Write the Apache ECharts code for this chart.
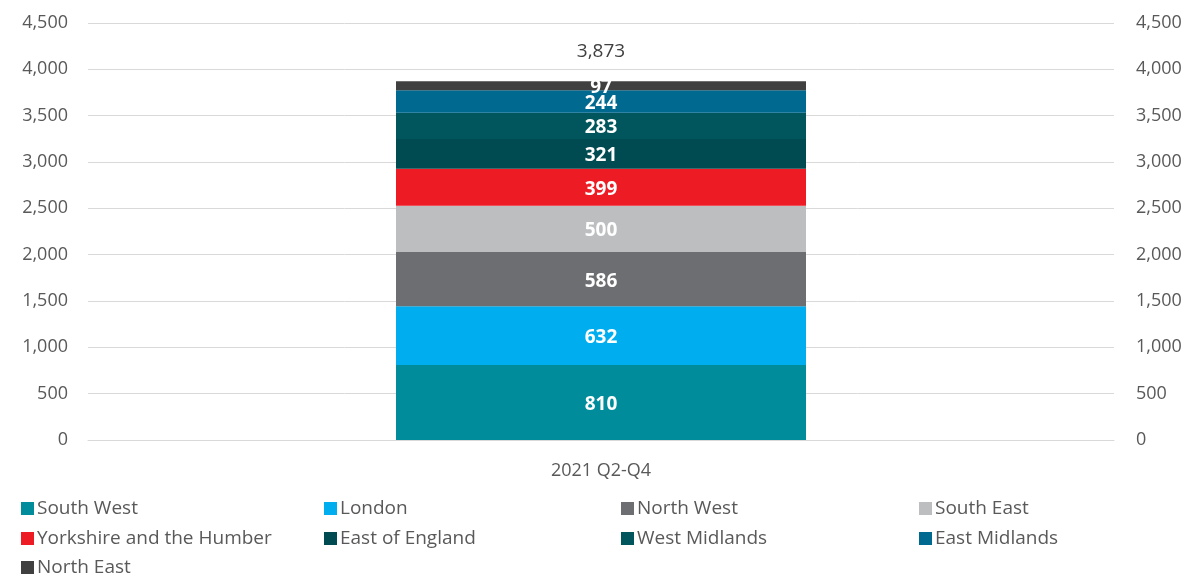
<!DOCTYPE html>
<html>
<head>
  <meta charset="utf-8">
  <title>Regions 2021 Q2-Q4</title>
  <script src="https://cdn.jsdelivr.net/npm/echarts@6/dist/echarts.min.js"></script>
  <style>
    html, body { margin: 0; padding: 0; background: #fff; }
    #chart { width: 1201px; height: 578px; }
  </style>
</head>
<body>
<div id="chart"></div>
<script>
  // data
  var categories = ['2021 Q2-Q4'];
  var regions = ['South West', 'London', 'North West', 'South East', 'Yorkshire and the Humber',
                 'East of England', 'West Midlands', 'East Midlands', 'North East'];
  var values = [810, 632, 586, 500, 399, 321, 283, 244, 97];
  var totals = [3873]; // as printed (rounded source figures)
  var colors = ['#008C9A', '#00AEEF', '#6D6E71', '#BCBEC0', '#ED1C24',
                '#004A52', '#00565C', '#006990', '#404041'];
  var ticks = [0, 500, 1000, 1500, 2000, 2500, 3000, 3500, 4000, 4500];

  var font = '"Open Sans", sans-serif';
  var fmt = function (v) { return v.toLocaleString('en-US'); };

  var series = regions.map(function (name, i) {
    return {
      name: name,
      type: 'bar',
      stack: 'all',
      barWidth: 410,
      itemStyle: { color: colors[i] },
      label: {
        show: true,
        position: 'inside',
        offset: [0, 2],
        color: '#fff',
        fontWeight: 'bold',
        fontSize: 19,
        fontFamily: font
      },
      data: [values[i]]
    };
  });
  // total on top
  series.push({
    name: 'Total',
    type: 'bar',
    stack: 'all',
    barWidth: 410,
    data: [0],
    label: {
      show: true,
      position: 'top',
      distance: 20,
      color: '#404040',
      fontSize: 19,
      fontFamily: font,
      formatter: function () { return fmt(totals[0]); }
    }
  });

  // legend in 4 columns x 3 rows, like the original
  var colX = [21, 324, 621, 919];
  var rowY = [499, 529, 558];
  var legends = regions.map(function (name, i) {
    return {
      data: [name],
      left: colX[i % 4],
      top: rowY[Math.floor(i / 4)],
      padding: 0,
      itemWidth: 13,
      itemHeight: 13,
      itemGap: 0,
      icon: 'rect',
      selectedMode: false,
      textStyle: { color: '#595959', fontSize: 19, fontFamily: font, padding: [0, 0, 0, -2] }
    };
  });

  var axisLabel = {
    color: '#595959',
    fontSize: 18,
    fontFamily: font,
    formatter: function (v) { return fmt(v); }
  };

  var chart = echarts.init(document.getElementById('chart'));
  chart.setOption({
    animation: false,
    backgroundColor: '#fff',
    grid: { left: 88, right: 87, top: 23, bottom: 138 },
    legend: legends,
    xAxis: {
      type: 'category',
      data: categories,
      axisLine: { lineStyle: { color: '#d9d9d9' } },
      axisTick: { show: false },
      axisLabel: { color: '#595959', fontSize: 18, fontFamily: font, margin: 22 }
    },
    yAxis: [{
      type: 'value',
      min: ticks[0],
      max: ticks[ticks.length - 1],
      interval: 500,
      axisLabel: Object.assign({ margin: 20 }, axisLabel),
      splitLine: { lineStyle: { color: '#d9d9d9' } }
    }, {
      type: 'value',
      position: 'right',
      min: ticks[0],
      max: ticks[ticks.length - 1],
      interval: 500,
      axisLabel: Object.assign({ margin: 22 }, axisLabel),
      splitLine: { show: false }
    }],
    series: series
  });
</script>
</body>
</html>
